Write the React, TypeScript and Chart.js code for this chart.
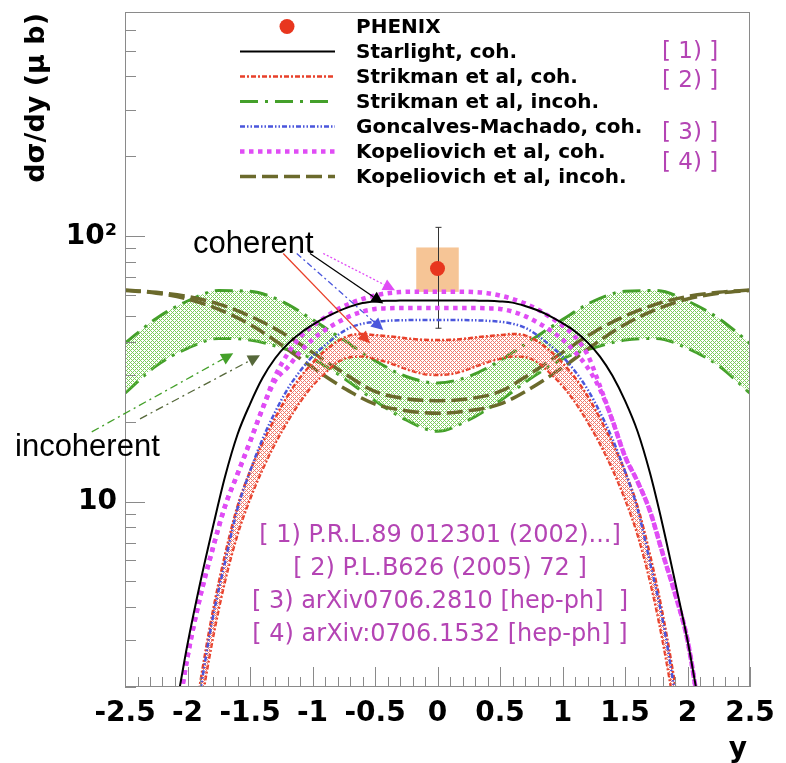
import React, { useEffect, useRef } from 'react';
import { Chart, registerables } from 'chart.js';

Chart.register(...registerables);

// ---------- data ----------
const coherentX = [-2.2, -2.1, -2.0, -1.9, -1.8, -1.7, -1.6, -1.5, -1.4, -1.3, -1.2, -1.1, -1.0, -0.9, -0.8, -0.7, -0.6, -0.5, -0.4, -0.3, -0.2, -0.1, 0, 0.1, 0.2, 0.3, 0.4, 0.5, 0.6, 0.7, 0.8, 0.9, 1.0, 1.1, 1.2, 1.3, 1.4, 1.5, 1.6, 1.7, 1.8, 1.9, 2.0, 2.1, 2.2];

const starlightY = [1.0, 1.6, 2.9, 4.9, 7.9, 12.4, 17.9, 23.3, 29.2, 34.6, 39.2, 43.0, 46.3, 49.3, 52.0, 54.3, 56.0, 56.8, 57.1, 57.2, 57.3, 57.3, 57.3, 57.3, 57.3, 57.2, 57.1, 56.8, 56.2, 54.6, 52.6, 50.0, 47.0, 43.8, 39.8, 35.2, 29.8, 24.0, 18.4, 12.8, 8.2, 5.0, 3.0, 1.65, 1.0];

const kopCohUpperY = [0.7, 1.35, 2.6, 4.35, 6.6, 9.6, 12.7, 16.8, 22.4, 29.6, 36.0, 41.6, 45.8, 49.5, 53.0, 55.8, 58.0, 59.8, 61.0, 61.6, 61.8, 61.8, 61.8, 61.8, 61.8, 61.6, 61.0, 59.8, 58.0, 55.8, 53.0, 49.6, 46.0, 41.8, 35.8, 27.2, 20.2, 14.8, 11.9, 9.2, 6.4, 4.5, 3.0, 1.55, 0.8];

const kopCohLowerY = [0.7, 1.35, 2.6, 4.35, 6.6, 9.6, 12.7, 16.8, 22.4, 28.5, 32.0, 36.6, 40.8, 44.3, 47.3, 50.0, 52.0, 53.2, 53.5, 53.6, 53.6, 53.6, 53.6, 53.6, 53.6, 53.6, 53.5, 53.2, 52.0, 50.0, 47.3, 44.3, 40.8, 36.6, 32.0, 26.5, 20.2, 14.8, 11.9, 9.2, 6.4, 4.5, 3.0, 1.55, 0.8];

const goncalvesY = [0.2, 0.45, 0.95, 1.9, 3.6, 5.9, 9.4, 13.0, 17.2, 21.7, 26.5, 31.0, 35.2, 38.8, 42.3, 45.2, 46.8, 47.6, 48.0, 48.2, 48.3, 48.3, 48.3, 48.3, 48.3, 48.2, 48.0, 47.6, 46.8, 45.2, 42.3, 38.8, 35.2, 31.0, 26.5, 21.7, 17.2, 13.0, 9.4, 5.9, 3.6, 1.9, 0.95, 0.45, 0.2];

const strikmanCohUpperY = [0.2, 0.45, 1.0, 2.05, 3.8, 6.3, 9.6, 13.0, 16.6, 20.6, 25.0, 29.3, 33.3, 37.0, 40.2, 42.3, 42.8, 42.4, 42.0, 41.5, 41.0, 40.7, 40.6, 40.7, 41.0, 41.5, 42.0, 42.4, 42.8, 42.3, 40.2, 37.0, 33.3, 29.3, 25.0, 20.6, 16.6, 13.0, 9.6, 6.3, 3.8, 2.05, 1.0, 0.45, 0.2];

const strikmanCohLowerY = [0.15, 0.35, 0.75, 1.6, 3.0, 5.0, 7.5, 10.2, 13.2, 16.5, 20.0, 23.7, 27.3, 30.5, 33.5, 35.0, 35.2, 34.5, 33.5, 32.2, 31.0, 30.2, 30.0, 30.2, 31.0, 32.2, 33.5, 34.5, 35.2, 35.0, 33.5, 30.5, 27.3, 23.7, 20.0, 16.5, 13.2, 10.2, 7.5, 5.0, 3.0, 1.6, 0.75, 0.35, 0.15];

const incoherentX = [-2.5, -2.25, -2.0, -1.75, -1.5, -1.25, -1.0, -0.75, -0.5, -0.25, 0, 0.25, 0.5, 0.75, 1.0, 1.25, 1.5, 1.75, 2.0, 2.25, 2.5];

const strikmanIncohUpperY = [39.5, 49.0, 57.0, 62.4, 62.0, 57.0, 48.5, 40.6, 34.0, 29.6, 28.0, 29.6, 34.0, 40.6, 48.5, 57.0, 62.0, 62.4, 57.0, 49.0, 39.5];
const strikmanIncohLowerY = [25.6, 32.5, 37.8, 41.2, 40.6, 38.0, 34.5, 29.2, 24.0, 20.3, 18.4, 20.3, 24.0, 29.2, 34.5, 38.0, 40.6, 41.2, 37.8, 32.5, 25.6];
const kopIncohUpperY = [62.7, 61.5, 59.3, 55.5, 50.0, 43.5, 36.5, 30.5, 26.0, 24.4, 24.0, 24.4, 26.0, 30.5, 36.5, 43.5, 50.0, 55.5, 59.3, 61.5, 62.7];
const kopIncohLowerY = [62.5, 61.0, 58.0, 53.0, 46.5, 39.0, 32.0, 26.8, 23.3, 22.0, 21.5, 22.0, 23.3, 26.8, 32.0, 39.0, 46.5, 53.0, 58.0, 61.0, 62.5];

const phenixX = [0];
const phenixY = [75.6];
const phenixStatLow = [45.0];
const phenixStatHigh = [108.0];
const phenixSysLow = [61.7];
const phenixSysHigh = [90.7];
const phenixSysHalfWidth = 0.17;

const xTickValues = [-2.5, -2.4, -2.3, -2.2, -2.1, -2.0, -1.9, -1.8, -1.7, -1.6, -1.5, -1.4, -1.3, -1.2, -1.1, -1.0, -0.9, -0.8, -0.7, -0.6, -0.5, -0.4, -0.3, -0.2, -0.1, 0, 0.1, 0.2, 0.3, 0.4, 0.5, 0.6, 0.7, 0.8, 0.9, 1.0, 1.1, 1.2, 1.3, 1.4, 1.5, 1.6, 1.7, 1.8, 1.9, 2.0, 2.1, 2.2, 2.3, 2.4, 2.5];
const xLabelValues = [-2.5, -2, -1.5, -1, -0.5, 0, 0.5, 1, 1.5, 2, 2.5];
const xTickLabels = ['-2.5', '-2', '-1.5', '-1', '-0.5', '0', '0.5', '1', '1.5', '2', '2.5'];
const yTickValues = [2, 3, 4, 5, 6, 7, 8, 9, 10, 20, 30, 40, 50, 60, 70, 80, 90, 100, 200, 300, 400, 500, 600, 700];
const yLabelValues = [10, 100];
const yTickLabels = ['10', '10²'];

const legendLabels = ['PHENIX', 'Starlight, coh.', 'Strikman et al, coh.', 'Strikman et al, incoh.', 'Goncalves-Machado, coh.', 'Kopeliovich et al, coh.', 'Kopeliovich et al, incoh.'];
const legendRefs = ['[ 1) ]', '[ 2) ]', '[ 3) ]', '[ 4) ]'];
const references = ['[ 1) P.R.L.89 012301 (2002)...]', '[ 2) P.L.B626 (2005) 72 ]', '[ 3) arXiv0706.2810 [hep-ph]  ]', '[ 4) arXiv:0706.1532 [hep-ph] ]'];
const yTitle = 'dσ/dy (μ b)';
const xTitle = 'y';

// ---------- styles ----------
const COL = {
  black: '#000000',
  red: '#e8402a',
  green: '#44a02a',
  blue: '#4a56dc',
  magenta: '#e04cf5',
  olive: '#6b6a2c',
  oliveArrow: '#56683a',
  phenix: '#e8361e',
  sys: '#f6c596',
  ref: '#b444b4',
  axis: '#8a8a8a',
};
const ST = {
  starlight: { color: COL.black, width: 2, dash: [] as number[] },
  strikmanCoh: { color: COL.red, width: 2.5, dash: [5, 2, 2, 2] },
  strikmanIncoh: { color: COL.green, width: 3, dash: [18, 7, 3, 7] },
  goncalves: { color: COL.blue, width: 2.5, dash: [5, 2, 1.5, 2, 1.5, 2] },
  kopCoh: { color: COL.magenta, width: 4.5, dash: [4.5, 4.5] },
  kopIncoh: { color: COL.olive, width: 3.5, dash: [16, 6] },
};
const legendStyles = [null, ST.starlight, ST.strikmanCoh, ST.strikmanIncoh, ST.goncalves, ST.kopCoh, ST.kopIncoh];

// annotation arrows, in data coordinates
const coherentArrows = [
  { from: [-1.234, 86.1], to: [-0.54, 39.5], color: COL.red, dash: [] as number[] },
  { from: [-1.126, 86.1], to: [-0.434, 44.3], color: COL.blue, dash: [6, 3, 2, 3] },
  { from: [-1.02, 86.1], to: [-0.434, 55.8], color: COL.black, dash: [] as number[] },
  { from: [-0.914, 86.1], to: [-0.34, 62.6], color: COL.magenta, dash: [2, 2] },
];
const incoherentArrows = [
  { from: [-2.766, 18.3], to: [-1.634, 36.2], color: COL.green, dash: [8, 4, 2, 4] },
  { from: [-2.38, 20.5], to: [-1.42, 35.6], color: COL.oliveArrow, dash: [8, 4, 2, 4] },
];

const BOLD = '"DejaVu Sans", sans-serif';

function pts(xs: number[], ys: number[]) {
  return xs.map((x, i) => ({ x, y: ys[i] }));
}

function lineDs(label: string, xs: number[], ys: number[], st: any, extra: any = {}) {
  return {
    type: 'line',
    label,
    data: pts(xs, ys),
    borderColor: st.color,
    borderWidth: st.width,
    borderDash: st.dash,
    pointRadius: 0,
    fill: false,
    cubicInterpolationMode: 'monotone',
    clip: 0,
    ...extra,
  };
}

function makePattern(ctx: CanvasRenderingContext2D, color: string) {
  const c = document.createElement('canvas');
  c.width = 4;
  c.height = 4;
  const g = c.getContext('2d')!;
  g.fillStyle = color;
  for (let i = 0; i < 4; i++) {
    for (let j = 0; j < 4; j++) {
      const on = (i + j) % 4 === 0 || (i - j + 4) % 4 === 0;
      if (on) g.fillRect(i, j, 1, 1);
    }
  }
  return ctx.createPattern(c, 'repeat');
}

function drawArrow(ctx: CanvasRenderingContext2D, x1: number, y1: number, x2: number, y2: number, color: string, dash: number[]) {
  const head = 12;
  const ang = Math.atan2(y2 - y1, x2 - x1);
  const bx = x2 - head * Math.cos(ang);
  const by = y2 - head * Math.sin(ang);
  ctx.save();
  ctx.strokeStyle = color;
  ctx.lineWidth = 1.3;
  ctx.setLineDash(dash);
  ctx.beginPath();
  ctx.moveTo(x1, y1);
  ctx.lineTo(bx, by);
  ctx.stroke();
  ctx.setLineDash([]);
  ctx.fillStyle = color;
  ctx.beginPath();
  ctx.moveTo(x2, y2);
  ctx.lineTo(bx + 6 * Math.sin(ang), by - 6 * Math.cos(ang));
  ctx.lineTo(bx - 6 * Math.sin(ang), by + 6 * Math.cos(ang));
  ctx.closePath();
  ctx.fill();
  ctx.restore();
}

const overlayPlugin = {
  id: 'rootOverlay',
  beforeDatasetsDraw(chart: any) {
    const { ctx } = chart;
    const x = chart.scales.x;
    const y = chart.scales.y;
    ctx.save();
    for (let i = 0; i < phenixX.length; i++) {
      const xl = x.getPixelForValue(phenixX[i] - phenixSysHalfWidth);
      const xr = x.getPixelForValue(phenixX[i] + phenixSysHalfWidth);
      const yt = y.getPixelForValue(phenixSysHigh[i]);
      const yb = y.getPixelForValue(phenixSysLow[i]);
      ctx.fillStyle = COL.sys;
      ctx.fillRect(xl, yt, xr - xl, yb - yt);
      const px = Math.round(x.getPixelForValue(phenixX[i])) + 0.5;
      const st = y.getPixelForValue(phenixStatHigh[i]);
      const sb = y.getPixelForValue(phenixStatLow[i]);
      ctx.strokeStyle = '#333333';
      ctx.lineWidth = 1;
      ctx.beginPath();
      ctx.moveTo(px, st);
      ctx.lineTo(px, sb);
      ctx.moveTo(px - 3, st);
      ctx.lineTo(px + 3, st);
      ctx.moveTo(px - 3, sb);
      ctx.lineTo(px + 3, sb);
      ctx.stroke();
    }
    ctx.restore();
  },
  afterDraw(chart: any) {
    const { ctx, chartArea } = chart;
    const x = chart.scales.x;
    const y = chart.scales.y;
    const L = chartArea.left, R = chartArea.right, T = chartArea.top, B = chartArea.bottom;
    ctx.save();

    // frame and inward tick marks
    ctx.strokeStyle = COL.axis;
    ctx.lineWidth = 1;
    ctx.setLineDash([]);
    ctx.strokeRect(Math.round(L) + 0.5, Math.round(T) + 0.5, Math.round(R - L) - 1, Math.round(B - T) - 1);
    ctx.beginPath();
    for (const t of y.ticks) {
      const py = Math.round(y.getPixelForValue(t.value)) + 0.5;
      if (py < T - 1 || py > B + 1) continue;
      const len = yLabelValues.includes(t.value) ? 20 : 11;
      ctx.moveTo(L, py);
      ctx.lineTo(L + len, py);
    }
    for (const t of x.ticks) {
      const px = Math.round(x.getPixelForValue(t.value)) + 0.5;
      const major = xLabelValues.some((v) => Math.abs(v - t.value) < 1e-6);
      const len = major ? 20 : 10;
      ctx.moveTo(px, B);
      ctx.lineTo(px, B - len);
    }
    ctx.stroke();

    // axis titles
    ctx.fillStyle = '#000';
    ctx.font = `bold 27px ${BOLD}`;
    ctx.save();
    ctx.translate(37, T + 1);
    ctx.rotate(-Math.PI / 2);
    ctx.textAlign = 'right';
    ctx.textBaseline = 'middle';
    ctx.fillText(yTitle, 0, 0);
    ctx.restore();
    ctx.font = `bold 28px ${BOLD}`;
    ctx.textAlign = 'center';
    ctx.textBaseline = 'alphabetic';
    ctx.fillText(xTitle, 738, 757);

    // legend
    const rowY = [26.5, 51.5, 76.5, 101.5, 126.5, 151.5, 176.5];
    for (let i = 0; i < legendLabels.length; i++) {
      const ry = rowY[i];
      const st = legendStyles[i];
      if (!st) {
        ctx.fillStyle = COL.phenix;
        ctx.beginPath();
        ctx.arc(287, ry, 7.5, 0, Math.PI * 2);
        ctx.fill();
      } else {
        ctx.strokeStyle = st.color;
        ctx.lineWidth = st.width;
        ctx.setLineDash(st.dash);
        ctx.beginPath();
        ctx.moveTo(240, ry);
        ctx.lineTo(335, ry);
        ctx.stroke();
        ctx.setLineDash([]);
      }
      ctx.fillStyle = '#000';
      ctx.font = `bold 20px ${BOLD}`;
      ctx.textAlign = 'left';
      ctx.textBaseline = 'middle';
      ctx.fillText(legendLabels[i], 356, ry + 1);
    }
    const refY = [52.5, 80.8, 133, 163.3];
    ctx.fillStyle = COL.ref;
    ctx.font = `23px ${BOLD}`;
    for (let i = 0; i < legendRefs.length; i++) {
      ctx.fillText(legendRefs[i], 662, refY[i]);
    }

    // references block
    ctx.font = `24px ${BOLD}`;
    ctx.textAlign = 'center';
    ctx.textBaseline = 'alphabetic';
    const refBase = [541.7, 575, 608, 641];
    for (let i = 0; i < references.length; i++) {
      ctx.fillText(references[i], 440, refBase[i]);
    }

    // annotations
    ctx.fillStyle = '#000';
    ctx.font = '31px "Liberation Sans", Arial, sans-serif';
    ctx.textAlign = 'left';
    ctx.fillText('coherent', x.getPixelForValue(-1.956), y.getPixelForValue(86.3));
    ctx.fillText('incoherent', x.getPixelForValue(-3.38), y.getPixelForValue(14.8));
    for (const a of [...coherentArrows, ...incoherentArrows]) {
      drawArrow(
        ctx,
        x.getPixelForValue(a.from[0]), y.getPixelForValue(a.from[1]),
        x.getPixelForValue(a.to[0]), y.getPixelForValue(a.to[1]),
        a.color, a.dash,
      );
    }
    ctx.restore();
  },
};

export default function App() {
  const ref = useRef<HTMLCanvasElement>(null);
  useEffect(() => {
    const canvas = ref.current!;
    const c2d = canvas.getContext('2d')!;
    const greenHatch = makePattern(c2d, '#7ccc5c');
    const redHatch = makePattern(c2d, '#f07a6c');

    const datasets: any[] = [
      {
        type: 'scatter',
        label: legendLabels[0],
        data: pts(phenixX, phenixY),
        pointRadius: 7.5,
        pointBackgroundColor: COL.phenix,
        pointBorderWidth: 0,
        showLine: false,
      },
      lineDs(legendLabels[1], coherentX, starlightY, ST.starlight),
      lineDs(legendLabels[5], coherentX, kopCohUpperY, ST.kopCoh),
      lineDs(legendLabels[5] + ' (lower)', coherentX, kopCohLowerY, ST.kopCoh),
      lineDs(legendLabels[4], coherentX, goncalvesY, ST.goncalves),
      lineDs(legendLabels[2], coherentX, strikmanCohUpperY, ST.strikmanCoh, { fill: '+1', backgroundColor: redHatch }),
      lineDs(legendLabels[2] + ' (lower)', coherentX, strikmanCohLowerY, ST.strikmanCoh),
      lineDs(legendLabels[6], incoherentX, kopIncohUpperY, ST.kopIncoh),
      lineDs(legendLabels[6] + ' (lower)', incoherentX, kopIncohLowerY, ST.kopIncoh),
      lineDs(legendLabels[3], incoherentX, strikmanIncohUpperY, ST.strikmanIncoh, { fill: '+1', backgroundColor: greenHatch }),
      lineDs(legendLabels[3] + ' (lower)', incoherentX, strikmanIncohLowerY, ST.strikmanIncoh),
    ];

    const tickFont = { family: 'DejaVu Sans', size: 28, weight: 'bold' as const };

    const chart = new Chart(canvas, {
      type: 'line',
      data: { datasets },
      options: {
        responsive: false,
        animation: false,
        events: [],
        layout: { padding: { top: 12, right: 36, left: 0, bottom: 0 } },
        plugins: { legend: { display: false }, tooltip: { enabled: false }, title: { display: false } },
        scales: {
          x: {
            type: 'linear',
            min: -2.5,
            max: 2.5,
            grid: { display: false, drawTicks: false },
            border: { display: false },
            ticks: {
              autoSkip: false,
              maxRotation: 0,
              minRotation: 0,
              padding: 10,
              color: '#000',
              font: tickFont,
              callback: (v: any) => {
                const i = xLabelValues.findIndex((l) => Math.abs(l - Number(v)) < 1e-6);
                return i >= 0 ? xTickLabels[i] : '';
              },
            },
            afterBuildTicks: (s: any) => {
              s.ticks = xTickValues.map((v) => ({ value: v }));
            },
            afterFit: (s: any) => {
              s.height = 76;
              s.paddingLeft = 0;
              s.paddingRight = 0;
            },
          },
          y: {
            type: 'logarithmic',
            min: 2,
            max: 700,
            grid: { display: false, drawTicks: false },
            border: { display: false },
            ticks: {
              autoSkip: false,
              padding: 8,
              color: '#000',
              font: tickFont,
              callback: (v: any) => {
                const i = yLabelValues.indexOf(Number(v));
                return i >= 0 ? yTickLabels[i] : '';
              },
            },
            afterBuildTicks: (s: any) => {
              s.ticks = yTickValues.map((v) => ({ value: v }));
            },
            afterFit: (s: any) => {
              s.width = 125;
              s.paddingTop = 0;
              s.paddingBottom = 0;
            },
          },
        },
      } as any,
      plugins: [overlayPlugin as any],
    });
    return () => chart.destroy();
  }, []);

  return (
    <div style={{ position: 'absolute', left: 0, top: 0, width: 786, height: 763, background: '#fff' }}>
      <canvas ref={ref} width={786} height={763} style={{ display: 'block', width: 786, height: 763 }} />
    </div>
  );
}
